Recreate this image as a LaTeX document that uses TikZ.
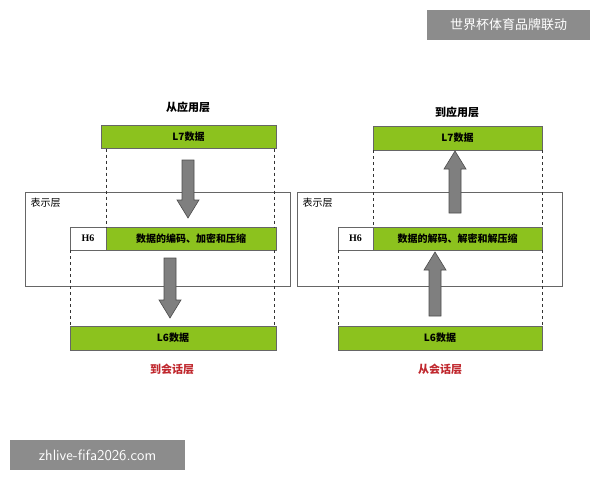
\documentclass[tikz,border=0pt]{standalone}
\usepackage{fontspec}
\setmainfont{Liberation Serif}
\newfontfamily\cjk{Noto Sans CJK SC}
\definecolor{bargreen}{HTML}{8CC21E}
\definecolor{arrgray}{HTML}{7F7F7F}
\definecolor{lblred}{HTML}{C0282E}
\newcommand{\fatarrow}[4]{% x, y from, y to, sign (1 down,-1 up)
  \draw[bigarr] (#1-6,#2) -- (#1-6,#3-#4*18) -- (#1-11,#3-#4*18) -- (#1,#3) -- (#1+11,#3-#4*18) -- (#1+6,#3-#4*18) -- (#1+6,#2) -- cycle;}
\begin{document}
\begin{tikzpicture}[x=1pt,y=-1pt,
  bar/.style={draw=black!60,fill=bargreen,inner sep=0,font=\bfseries\cjk\fontsize{10}{10}\selectfont},
  hsix/.style={draw=black!60,fill=white,inner sep=0,font=\bfseries\fontsize{10}{10}\selectfont},
  layerbox/.style={draw=black!60,line width=0.6pt},
  dsh/.style={dashed,black!80,line width=0.6pt},
  bigarr/.style={draw=black!70,fill=arrgray,line width=0.6pt},
  ttl/.style={font=\bfseries\cjk\fontsize{11}{11}\selectfont},
  wm/.style={fill=black!45,text=white,inner sep=0}]
\useasboundingbox (0,0) rectangle (600,480);
% left
\node[layerbox,minimum width=265pt,minimum height=94pt,inner sep=0] (lbox) at (157.5,239) {};
\node[anchor=north west,font=\cjk\fontsize{10}{10}\selectfont] (lrep) at (27,195) {表示层};
\node[bar,minimum width=175pt,minimum height=23pt] (l7a) at (188.5,137) {L7数据};
\node[hsix,minimum width=36pt,minimum height=23pt] (h6a) at (88,238.5) {H6};
\node[bar,minimum width=170pt,minimum height=23pt] (d6a) at (191,238.5) {数据的编码、加密和压缩};
\node[bar,minimum width=206pt,minimum height=24pt] (l6a) at (173,338) {L6数据};
\draw[dsh] (106,148.5) -- (106,227); \draw[dsh] (274,148.5) -- (274,227);
\draw[dsh] (70,250) -- (70,326); \draw[dsh] (274,250) -- (274,326);
\fatarrow{188}{160}{218}{1}
\fatarrow{170}{258}{318}{1}
\node[ttl] (t1) at (188,107) {从应用层};
\node[ttl,text=lblred] (t2) at (172,369) {到会话层};
% right
\node[layerbox,minimum width=265pt,minimum height=94pt,inner sep=0] (rbox) at (429.5,239) {};
\node[anchor=north west,font=\cjk\fontsize{10}{10}\selectfont] (rrep) at (299,195) {表示层};
\node[bar,minimum width=169pt,minimum height=24pt] (l7b) at (457.5,138) {L7数据};
\node[hsix,minimum width=35pt,minimum height=23pt] (h6b) at (355.5,238.5) {H6};
\node[bar,minimum width=169pt,minimum height=23pt] (d6b) at (457.5,238.5) {数据的解码、解密和解压缩};
\node[bar,minimum width=204pt,minimum height=24pt] (l6b) at (440,338) {L6数据};
\draw[dsh] (373,150) -- (373,227); \draw[dsh] (542,150) -- (542,227);
\draw[dsh] (338,250) -- (338,326); \draw[dsh] (542,250) -- (542,326);
\fatarrow{455}{213}{151}{-1}
\fatarrow{435}{316}{252}{-1}
\node[ttl] (t3) at (457,112) {到应用层};
\node[ttl,text=lblred] (t4) at (440,369) {从会话层};
% watermarks
\node[wm,minimum width=163pt,minimum height=30pt,font=\cjk\fontsize{13}{13}\selectfont] (w1) at (508.5,25) {世界杯体育品牌联动};
\node[wm,minimum width=175pt,minimum height=30pt,font=\sffamily\fontsize{15}{15}\selectfont] (w2) at (97.5,455) {zhlive-fifa2026.com};
\end{tikzpicture}
\end{document}
